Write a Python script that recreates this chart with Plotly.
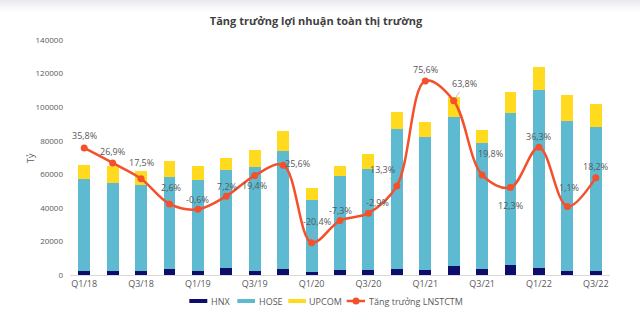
import plotly.graph_objects as go

# Quarterly net profit by exchange (billion VND) and market-wide growth (%)
quarters = ["Q1/18", "Q2/18", "Q3/18", "Q4/18", "Q1/19", "Q2/19", "Q3/19", "Q4/19",
            "Q1/20", "Q2/20", "Q3/20", "Q4/20", "Q1/21", "Q2/21", "Q3/21", "Q4/21",
            "Q1/22", "Q2/22", "Q3/22"]
hnx = [2600, 2600, 2600, 3600, 2600, 4200, 2600, 3400, 2000, 3000, 3000, 3600,
       3000, 5200, 3600, 5800, 4200, 2200, 2200]
hose = [54400, 52400, 50800, 55000, 54000, 58200, 61500, 70700, 42700, 56200, 60000,
        83200, 79000, 89100, 75200, 90700, 105800, 89500, 86100]
upcom = [8300, 10100, 8400, 9300, 8300, 7300, 10200, 11500, 7100, 5700, 9100, 10300,
         9000, 11900, 7600, 12500, 14100, 15700, 13700]
growth = [35.8, 26.9, 17.5, 2.6, -0.6, 7.2, 19.4, 25.6, -20.4, -7.3, -2.9, 13.3,
          75.6, 63.8, 19.8, 12.3, 36.3, 1.1, 18.2]
x_ticks = quarters[::2]
y_ticks = [0, 20000, 40000, 60000, 80000, 100000, 120000, 140000]

C_HNX = "#0D0D6B"
C_HOSE = "#5DBAD1"
C_UPCOM = "#FFDA1F"
C_LINE = "#F4502C"
TXT = "#595959"
FONT = "Open Sans"

W, H = 640, 327
L, R, T, B = 70, 30, 40, 52
PW, PH = W - L - R, H - T - B


def px(xp):
    return (xp - L) / PW


def py(yp):
    return (H - B - yp) / PH


fig = go.Figure()
fig.add_trace(go.Bar(x=quarters, y=hnx, name="HNX", marker_color=C_HNX, marker_line_width=0))
fig.add_trace(go.Bar(x=quarters, y=hose, name="HOSE", marker_color=C_HOSE, marker_line_width=0))
fig.add_trace(go.Bar(x=quarters, y=upcom, name="UPCOM", marker_color=C_UPCOM, marker_line_width=0))
fig.add_trace(go.Scatter(x=quarters, y=growth, name="Tăng trưởng LNSTCTM", yaxis="y2",
                         mode="lines+markers",
                         line=dict(color=C_LINE, width=2.5, shape="spline", smoothing=1.0),
                         marker=dict(color=C_LINE, size=7)))

# Data labels: (dx, dy) in pixels from the point; leader=True draws a thin connector
label_pos = [(0, 12, False), (0, 11, False), (0, 16, False), (2, 16, True), (0, 10, False),
             (1, 10, False), (0, -10, False), (14, 2, False), (5, 21, True), (0, 10, False),
             (9, 11, False), (-14, 16, True), (0, 11, False), (11, 17, True), (8, 21, True),
             (0, -18, True), (0, 11, False), (2, 19, True), (0, 11, False)]
annotations = []
for q, g, (dx, dy, leader) in zip(quarters, growth, label_pos):
    txt = f"{g:.1f}%".replace(".", ",")
    if leader:
        annotations.append(dict(x=q, y=g, xref="x", yref="y2", text=txt, showarrow=True,
                                ax=dx, ay=-dy, arrowhead=0, arrowwidth=0.7,
                                arrowcolor="#A6A6A6", standoff=3,
                                font=dict(family=FONT, size=9, color=TXT)))
    else:
        annotations.append(dict(x=q, y=g, xref="x", yref="y2", text=txt, showarrow=False,
                                xshift=dx, yshift=dy,
                                font=dict(family=FONT, size=9, color=TXT)))

# Y axis title
annotations.append(dict(x=px(30), y=py(158), xref="paper", yref="paper", text="Tỷ",
                        textangle=-90, showarrow=False, xanchor="center", yanchor="middle",
                        font=dict(family=FONT, size=9, color=TXT)))

# Legend drawn below the plot
shapes = []
legend_items = [(C_HNX, 189.3, 207.3, 209, "HNX"),
                (C_HOSE, 237.3, 255, 256.7, "HOSE"),
                (C_UPCOM, 288.3, 306, 307.3, "UPCOM")]
ly = 301
for col, x0, x1, tx, name in legend_items:
    shapes.append(dict(type="rect", xref="paper", yref="paper", x0=px(x0), x1=px(x1),
                       y0=py(ly + 2), y1=py(ly - 2), fillcolor=col, line_width=0))
    annotations.append(dict(x=px(tx), y=py(ly), xref="paper", yref="paper", text=name,
                            showarrow=False, xanchor="left", yanchor="middle",
                            font=dict(family=FONT, size=9, color=TXT)))
shapes.append(dict(type="line", xref="paper", yref="paper", x0=px(346.7), x1=px(365),
                   y0=py(ly), y1=py(ly), line=dict(color=C_LINE, width=2.5)))
shapes.append(dict(type="circle", xref="paper", yref="paper", x0=px(352.5), x1=px(359.5),
                   y0=py(ly + 3.5), y1=py(ly - 3.5), fillcolor=C_LINE, line_width=0))
annotations.append(dict(x=px(366.7), y=py(ly), xref="paper", yref="paper",
                        text="Tăng trưởng LNSTCTM", showarrow=False,
                        xanchor="left", yanchor="middle",
                        font=dict(family=FONT, size=9, color=TXT)))

# Soft shade along the top edge
for i, op in enumerate([0.9, 0.7, 0.5, 0.35, 0.2, 0.1]):
    shapes.append(dict(type="rect", xref="paper", yref="paper", x0=px(0), x1=px(W),
                       y0=py(2 * i + 2), y1=py(2 * i), fillcolor="#E8E7EF",
                       opacity=op, line_width=0, layer="below"))

fig.update_layout(
    width=W, height=H, margin=dict(l=L, r=R, t=T, b=B),
    paper_bgcolor="white", plot_bgcolor="white",
    barmode="stack", bargap=0.58, showlegend=False,
    title=dict(text="<b>Tăng trưởng lợi nhuận toàn thị trường</b>", x=316 / W, xanchor="center",
               y=1 - 21 / H, yanchor="middle", yref="container",
               font=dict(family=FONT, size=11, color="#404040")),
    xaxis=dict(tickmode="array", tickvals=x_ticks, ticktext=x_ticks, showgrid=False,
               showline=True, linecolor="#D9D9D9", linewidth=1, ticks="",
               tickfont=dict(family=FONT, size=9, color=TXT), range=[-0.5, 18.5]),
    yaxis=dict(range=[0, 140000], tickvals=y_ticks, tickformat="d", showgrid=False,
               zeroline=False, showline=False, ticks="", ticklabelstandoff=6,
               tickfont=dict(family=FONT, size=8, color=TXT)),
    yaxis2=dict(range=[-39.6, 99.9], overlaying="y", side="right", visible=False),
    annotations=annotations, shapes=shapes,
)

fig.write_html("out.html")
